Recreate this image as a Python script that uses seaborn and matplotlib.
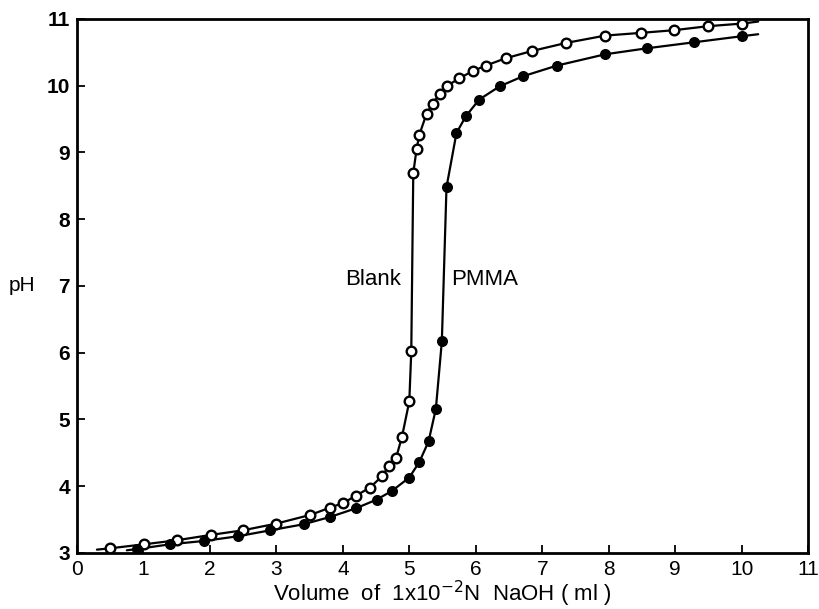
import matplotlib
matplotlib.use("Agg")
import matplotlib.pyplot as plt
import seaborn as sns
import pandas as pd

# Blank (open circles)
blank_vol = [0.5, 1.01, 1.5, 2.01, 2.5, 3.0, 3.51, 3.81, 4.01, 4.2, 4.41, 4.59, 4.69, 4.8, 4.89,
             5.0, 5.03, 5.06, 5.11, 5.15, 5.26, 5.35, 5.46, 5.56, 5.75, 5.96, 6.15, 6.45, 6.85,
             7.36, 7.95, 8.48, 8.98, 9.49, 10.01]
blank_ph = [3.07, 3.13, 3.19, 3.27, 3.34, 3.44, 3.57, 3.68, 3.75, 3.86, 3.98, 4.15, 4.3, 4.42, 4.74,
            5.27, 6.02, 8.69, 9.05, 9.26, 9.58, 9.73, 9.88, 9.99, 10.11, 10.22, 10.3, 10.41, 10.52,
            10.64, 10.75, 10.79, 10.83, 10.89, 10.93]
blank_curve_start = (0.3, 3.05)
blank_curve_end = (10.25, 10.96)

# PMMA (filled circles)
pmma_vol = [0.91, 1.4, 1.91, 2.42, 2.91, 3.41, 3.81, 4.2, 4.51, 4.74, 5.0, 5.15, 5.29, 5.4, 5.49,
            5.56, 5.71, 5.85, 6.05, 6.36, 6.71, 7.22, 7.95, 8.58, 9.29, 10.0]
pmma_ph = [3.06, 3.13, 3.18, 3.25, 3.34, 3.43, 3.54, 3.67, 3.8, 3.93, 4.13, 4.36, 4.67, 5.16, 6.17,
           8.48, 9.29, 9.54, 9.79, 9.99, 10.14, 10.3, 10.47, 10.56, 10.65, 10.74]
pmma_curve_start = (0.75, 3.04)
pmma_curve_end = (10.25, 10.77)

x_ticks = list(range(0, 12))
y_ticks = list(range(3, 12))

sns.set_style("ticks")
plt.rcParams['font.family'] = ['Liberation Sans', 'DejaVu Sans']
plt.rcParams['text.color'] = 'black'
plt.rcParams['axes.labelcolor'] = 'black'

fig = plt.figure(figsize=(8.2, 6.09), dpi=100)
ax = fig.add_axes([0.0939, 0.092, 0.8915, 0.877])

def curve(vol, ph, start, end):
    return pd.DataFrame({"vol": [start[0]] + vol + [end[0]],
                         "ph": [start[1]] + ph + [end[1]]})

blank_line = curve(blank_vol, blank_ph, blank_curve_start, blank_curve_end)
pmma_line = curve(pmma_vol, pmma_ph, pmma_curve_start, pmma_curve_end)

sns.lineplot(data=blank_line, x="vol", y="ph", sort=False, color="black", lw=1.6, ax=ax, zorder=2)
sns.lineplot(data=pmma_line, x="vol", y="ph", sort=False, color="black", lw=1.6, ax=ax, zorder=2)

blank_df = pd.DataFrame({"vol": blank_vol, "ph": blank_ph})
pmma_df = pd.DataFrame({"vol": pmma_vol, "ph": pmma_ph})
sns.scatterplot(data=blank_df, x="vol", y="ph", marker="o", s=48, facecolor="white",
                edgecolor="black", linewidth=1.7, ax=ax, zorder=3)
sns.scatterplot(data=pmma_df, x="vol", y="ph", marker="o", s=48, color="black",
                edgecolor="black", linewidth=1.0, ax=ax, zorder=3)

ax.set_xlim(0, 11)
ax.set_ylim(3, 11)
ax.set_xticks(x_ticks)
ax.set_yticks(y_ticks)
ax.set_xticklabels([str(t) for t in x_ticks], fontsize=15)
ax.set_yticklabels([str(t) for t in y_ticks], fontsize=15, fontweight="bold")
ax.tick_params(direction="in", length=6, width=1.3, pad=5, colors="black")
for sp in ax.spines.values():
    sp.set_visible(True)
    sp.set_linewidth(2.0)
    sp.set_color("black")

ax.set_xlabel("Volume  of  1x10$^{-2}$N  NaOH ( ml )", fontsize=16, labelpad=0)
ax.set_ylabel("pH", fontsize=15, rotation=0, va="center")
ax.yaxis.set_label_coords(-0.075, 0.5)

ax.text(4.45, 7.09, "Blank", fontsize=16, ha="center", va="center")
ax.text(6.13, 7.09, "PMMA", fontsize=16, ha="center", va="center")

fig.savefig("out.png", dpi=100)
